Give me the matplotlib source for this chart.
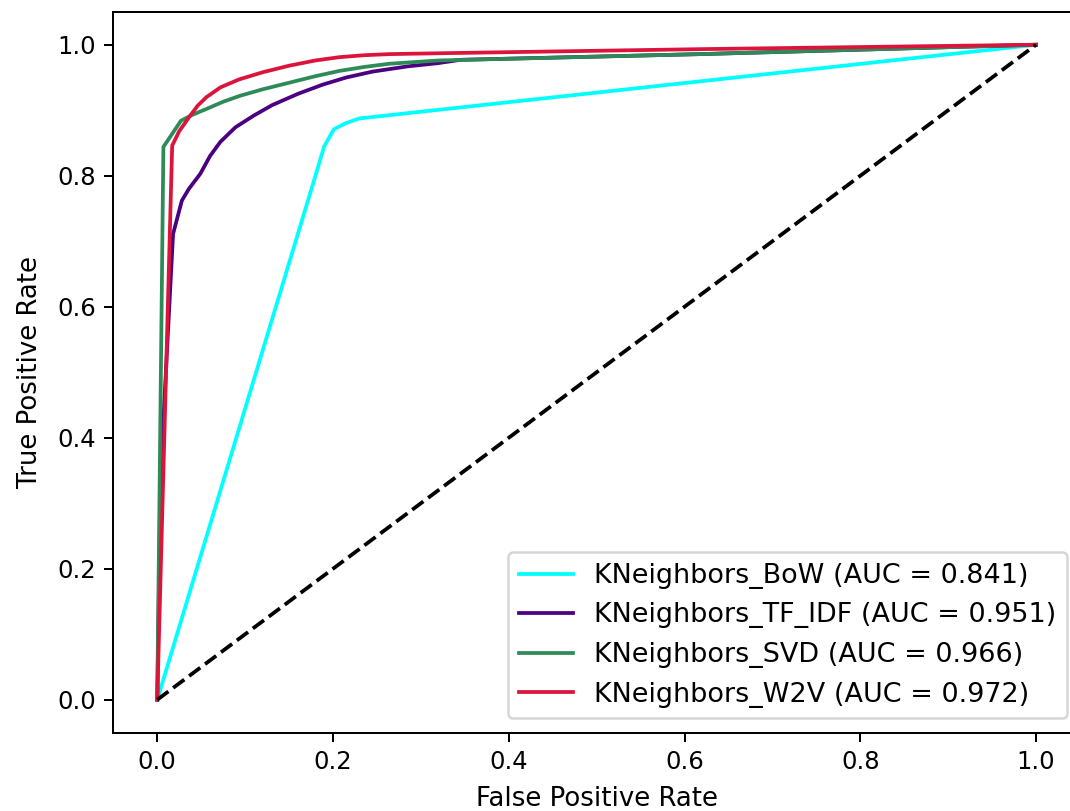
import matplotlib
matplotlib.use("Agg")
import matplotlib.pyplot as plt

# ROC curve points
bow_fpr = [0.0, 0.18, 0.19, 0.201, 0.214, 0.23, 1.0]
bow_tpr = [0.0, 0.80, 0.845, 0.871, 0.880, 0.8875, 1.0]

tfidf_fpr = [0.0, 0.004, 0.018, 0.028, 0.036, 0.049, 0.060, 0.072, 0.089, 0.110, 0.131, 0.160, 0.188, 0.215, 0.245, 0.285, 0.320, 0.345, 0.618, 1.0]
tfidf_tpr = [0.0, 0.35, 0.711, 0.762, 0.780, 0.803, 0.830, 0.852, 0.874, 0.892, 0.908, 0.925, 0.939, 0.950, 0.959, 0.967, 0.972, 0.977, 0.9857, 1.0]

svd_fpr = [0.0, 0.007, 0.018, 0.027, 0.040, 0.056, 0.075, 0.094, 0.120, 0.150, 0.180, 0.207, 0.235, 0.264, 0.320, 0.618, 1.0]
svd_tpr = [0.0, 0.844, 0.866, 0.884, 0.893, 0.902, 0.913, 0.922, 0.932, 0.942, 0.952, 0.960, 0.966, 0.971, 0.976, 0.9857, 1.0]

w2v_fpr = [0.0, 0.017, 0.025, 0.036, 0.046, 0.056, 0.072, 0.093, 0.120, 0.150, 0.180, 0.207, 0.235, 0.264, 0.320, 0.618, 1.0]
w2v_tpr = [0.0, 0.846, 0.868, 0.889, 0.907, 0.920, 0.935, 0.947, 0.958, 0.968, 0.976, 0.981, 0.984, 0.9857, 0.987, 0.9933, 1.0]

labels = ["KNeighbors_BoW (AUC = 0.841)",
          "KNeighbors_TF_IDF (AUC = 0.951)",
          "KNeighbors_SVD (AUC = 0.966)",
          "KNeighbors_W2V (AUC = 0.972)"]
colors = ["aqua", "indigo", "seagreen", "crimson"]

W, H, DPI = 1070, 811, 180
fig = plt.figure(figsize=(W / DPI, H / DPI), dpi=DPI)
# axes runs past the right edge of the picture, as in the reference crop
left, right, top, bottom = 113.3, 1080.0, 12.0, 732.5
ax = fig.add_axes([left / W, 1 - bottom / H, (right - left) / W, (bottom - top) / H])

curves = [(bow_fpr, bow_tpr), (tfidf_fpr, tfidf_tpr), (svd_fpr, svd_tpr), (w2v_fpr, w2v_tpr)]
for (f, t), lab, c in zip(curves, labels, colors):
    ax.plot(f, t, color=c, label=lab)

ax.plot([0, 1], [0, 1], "k--")
ax.set_xlim(-0.05, 1.05)
ax.set_ylim(-0.05, 1.05)
ax.tick_params(labelsize=9.7)
ax.set_xlabel("False Positive Rate", fontsize=10.4, labelpad=5)
ax.set_ylabel("True Positive Rate", fontsize=10.4, labelpad=5.5)

ax_w, ax_h = right - left, bottom - top
ax.legend(loc="lower right", fontsize=10.8, borderaxespad=0,
          bbox_to_anchor=((1067.3 - left) / ax_w, (bottom - 718.3) / ax_h))

fig.savefig("out.png", dpi=DPI)
